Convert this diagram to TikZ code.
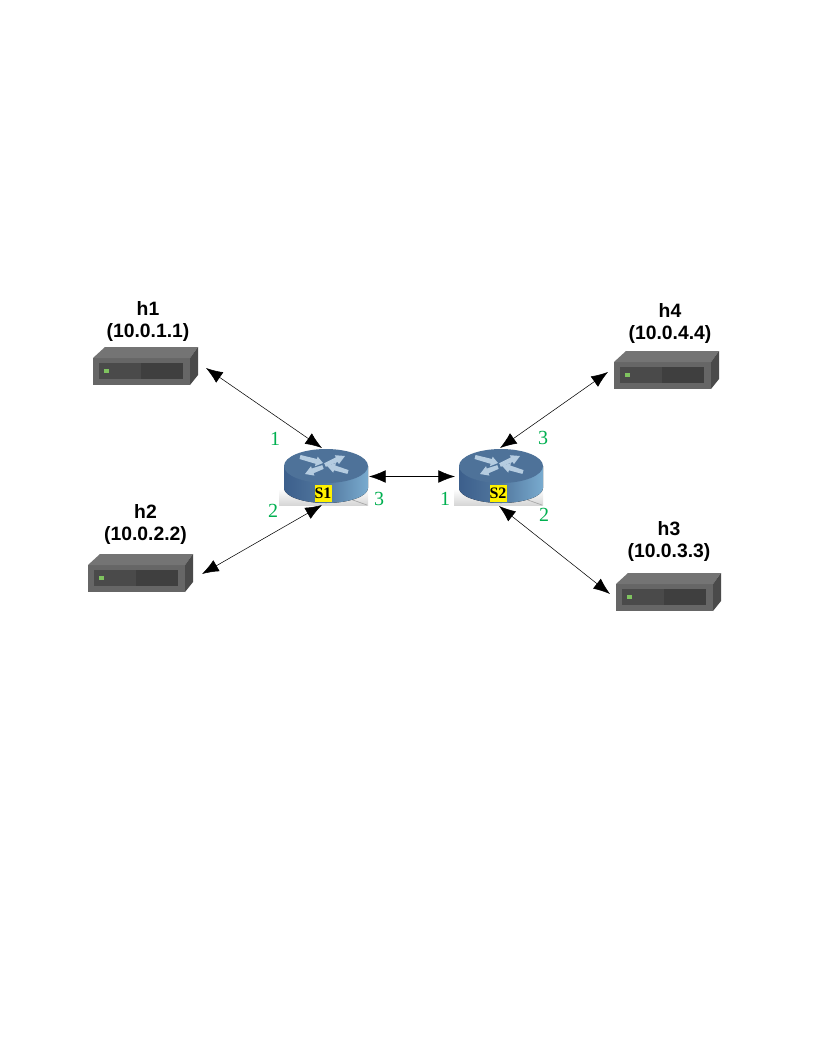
\documentclass[tikz,border=0pt]{standalone}
\usepackage{fontspec}
\setmainfont{Liberation Sans}
\newfontfamily\serifnum{Liberation Serif}
\usetikzlibrary{arrows.meta,calc}
\definecolor{portgreen}{HTML}{00B050}
\definecolor{srvfront}{HTML}{666666}
\definecolor{srvtop}{HTML}{747474}
\definecolor{srvside}{HTML}{4A4A4A}
\definecolor{srvpanel}{HTML}{4A4A4A}
\definecolor{srvpanelb}{HTML}{3F3F3F}
\definecolor{srvled}{HTML}{7FC35F}
\definecolor{rtop}{HTML}{4E7299}
\definecolor{rleft}{HTML}{3C5F8C}
\definecolor{rright}{HTML}{79ABCF}
\definecolor{rarrow}{HTML}{B5CCE0}
\newdimen\unitpx \unitpx=0.75pt
\tikzset{
  hostlabel/.style={font=\fontsize{14.5}{16.5}\selectfont\bfseries,align=center,text=black,inner sep=0pt},
  portnum/.style={font=\serifnum\fontsize{15}{16}\selectfont,text=portgreen,inner sep=0pt},
  swlabel/.style={font=\serifnum\fontsize{12}{13}\selectfont\bfseries,fill=yellow,text=black,inner sep=0pt,minimum width=17\unitpx,minimum height=17\unitpx},
  link/.style={draw=black,line width=0.4pt,{Latex[length=12.5pt,width=9.5pt]}-{Latex[length=12.5pt,width=9.5pt]}},
  hostbox/.style={minimum width=105\unitpx,minimum height=38\unitpx,inner sep=0pt,outer sep=0pt},
  swbox/.style={minimum width=92\unitpx,minimum height=57\unitpx,inner sep=0pt,outer sep=0pt},
}
\newcommand{\serverpic}[3]{% x y name
  \begin{scope}[shift={(#1,#2)}]
    \fill[srvfront] (0,11) rectangle (97,38);
    \fill[srvtop] (0,11) -- (12,0) -- (105,0) -- (97,11) -- cycle;
    \fill[srvside] (97,11) -- (105,0) -- (105,28) -- (97,38) -- cycle;
    \fill[srvpanel] (6,16) rectangle (48,32);
    \fill[srvpanelb] (48,16) rectangle (90,32);
    \fill[srvled] (11,22) rectangle (16,26);
    \node[hostbox,anchor=north west] (#3) at (0,0) {};
  \end{scope}}
\newcommand{\routerpic}[3]{% cx name label
  \begin{scope}[shift={(#1,0)}]
    \shade[top color=black!1,bottom color=black!16] (-44,490) rectangle (45,505);
    \draw[black!35,line width=0.5pt] (27,499) -- (44,505);
    \fill[left color=rleft,right color=rright,middle color=rtop!90!rright]
      (-39,466) -- (-39,488) arc[start angle=180,end angle=360,x radius=42,y radius=-15] -- (45,466) -- cycle;
    \fill[rtop] (3,466) ellipse[x radius=42,y radius=17];
    \begin{scope}[shift={(2,467)}]
      \fill[rarrow] (-24.5,-12) -- (-8,-8) -- (-7.4,-10.4) -- (-2,-4) -- (-10,-.8) -- (-9.4,-3.2) -- (-25.5,-8) -- cycle;
      \fill[rarrow] (-.8,-3.8) -- (10.8,-9.6) -- (9.8,-11.8) -- (20,-11) -- (13.9,-2.8) -- (12.8,-5) -- (.8,-.2) -- cycle;
      \fill[rarrow] (23.6,3.1) -- (10.3,-1.5) -- (11,-3.9) -- (2,-1.3) -- (8.2,5.7) -- (8.9,3.3) -- (22.4,6.9) -- cycle;
      \fill[rarrow] (-2.7,-1.9) -- (-13.2,1.5) -- (-14,-.8) -- (-20,7) -- (-10.6,8.6) -- (-11.4,6.2) -- (-1.3,1.9) -- cycle;
    \end{scope}
    \node[swbox] (#2) at (0,476.5) {};
    \node[swlabel] (#2lab) at (0,493.5) {#3};
  \end{scope}}
\begin{document}
\begin{tikzpicture}[x=0.75pt,y=-0.75pt]
\useasboundingbox (0,0) rectangle (816,1056);
\fill[white] (0,0) rectangle (816,1056);
\serverpic{93}{347}{h1}
\serverpic{88}{554}{h2}
\serverpic{616}{573}{h3}
\serverpic{614}{351}{h4}
\routerpic{323}{s1}{S1}
\routerpic{498}{s2}{S2}
\node[hostlabel] (h1t) at (148,321) {h1\\(10.0.1.1)};
\node[hostlabel] (h2t) at (145.5,524.5) {h2\\(10.0.2.2)};
\node[hostlabel] (h3t) at (669,541) {h3\\(10.0.3.3)};
\node[hostlabel] (h4t) at (670,323) {h4\\(10.0.4.4)};
\node[portnum] (p11) at (275,439) {1};
\node[portnum] (p12) at (273,511) {2};
\node[portnum] (p13) at (379,499) {3};
\node[portnum] (p21) at (445,499) {1};
\node[portnum] (p22) at (544,515) {2};
\node[portnum] (p23) at (543,438) {3};
\draw[link] ($(h1.east)+(8,2)$) -- ($(s1.north)+(-1,0)$);
\draw[link] ($(h2.east)+(9,1)$) -- ($(s1.south)+(-1,0)$);
\draw[link] (s1.east) -- ($(s2.west)+(3,0)$);
\draw[link] ($(h4.west)+(-6,2)$) -- ($(s2.north)+(2,0)$);
\draw[link] ($(h3.west)+(-6,2)$) -- ($(s2.south)+(1,1)$);
\end{tikzpicture}
\end{document}
